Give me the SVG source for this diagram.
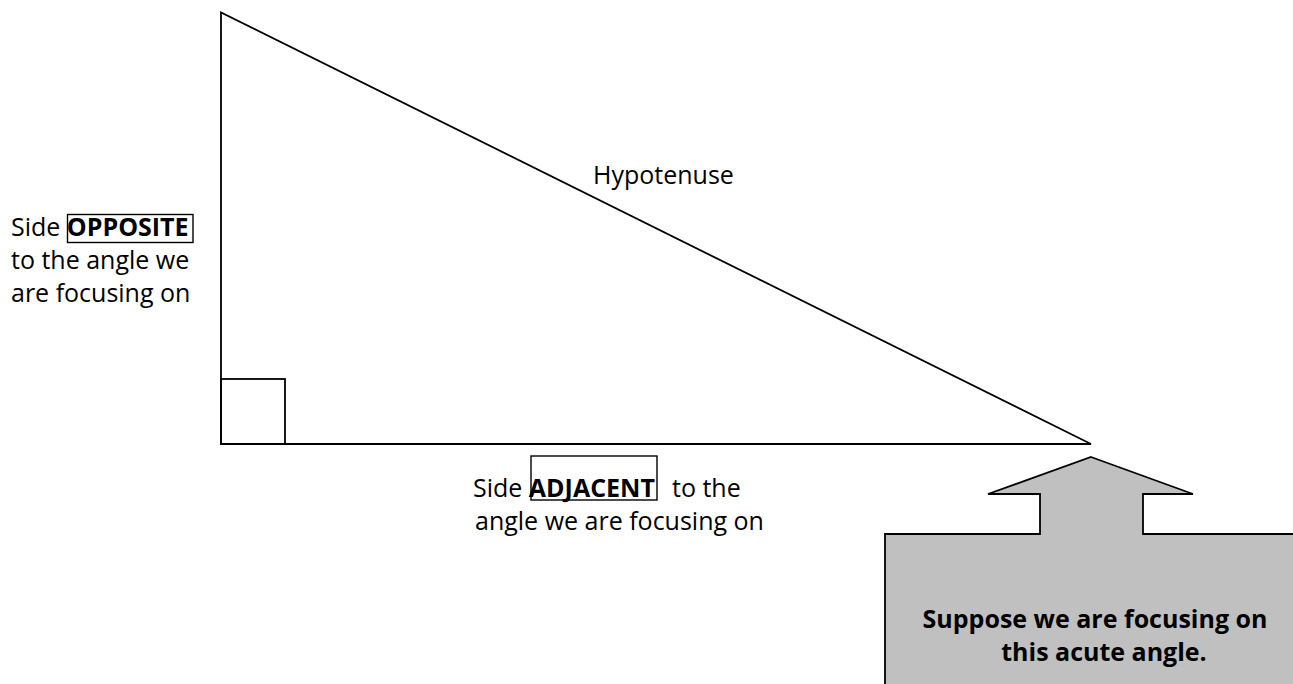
<svg xmlns="http://www.w3.org/2000/svg" width="1293" height="684" viewBox="0 0 1293 684">
<style>
.ln{fill:none;stroke:#000;stroke-width:1.8;stroke-linejoin:miter}
.bx{fill:none;stroke:#000;stroke-width:1.4}
.t{font-family:"Open Sans","Liberation Sans",sans-serif;font-size:25px;fill:#000}
.b{font-weight:bold}
.c{text-anchor:middle}
</style>
<rect width="1293" height="684" fill="#fff"/>
<g id="triangle">
<polygon class="ln" points="221,12.5 221,444 1091,444"/>
<rect class="ln" x="221" y="379" width="64" height="65"/>
</g>
<g id="hypotenuse-label">
<text class="t" x="593" y="184">Hypotenuse</text>
</g>
<g id="opposite-label">
<rect class="bx" x="67.5" y="214.5" width="125.5" height="28"/>
<text class="t" x="11" y="236">Side <tspan class="b">OPPOSITE</tspan></text>
<text class="t" x="11" y="269">to the angle we</text>
<text class="t" x="11" y="302">are focusing on</text>
</g>
<g id="adjacent-label">
<rect class="bx" x="531" y="456" width="126" height="44"/>
<text class="t" x="473" y="497">Side <tspan class="b">ADJACENT</tspan><tspan x="672">to the</tspan></text>
<text class="t" x="475" y="530">angle we are focusing on</text>
</g>
<g id="callout">
<polygon fill="#c0c0c0" stroke="#000" stroke-width="1.8" points="1091,457 1193,494 1143,494 1143,534 1300,534 1300,700 885,700 885,534 1040,534 1040,494 988,494"/>
<text class="t b c" x="1095" y="628">Suppose we are focusing on</text>
<text class="t b c" x="1104" y="661">this acute angle.</text>
</g>
<g id="connectors"></g>
</svg>
